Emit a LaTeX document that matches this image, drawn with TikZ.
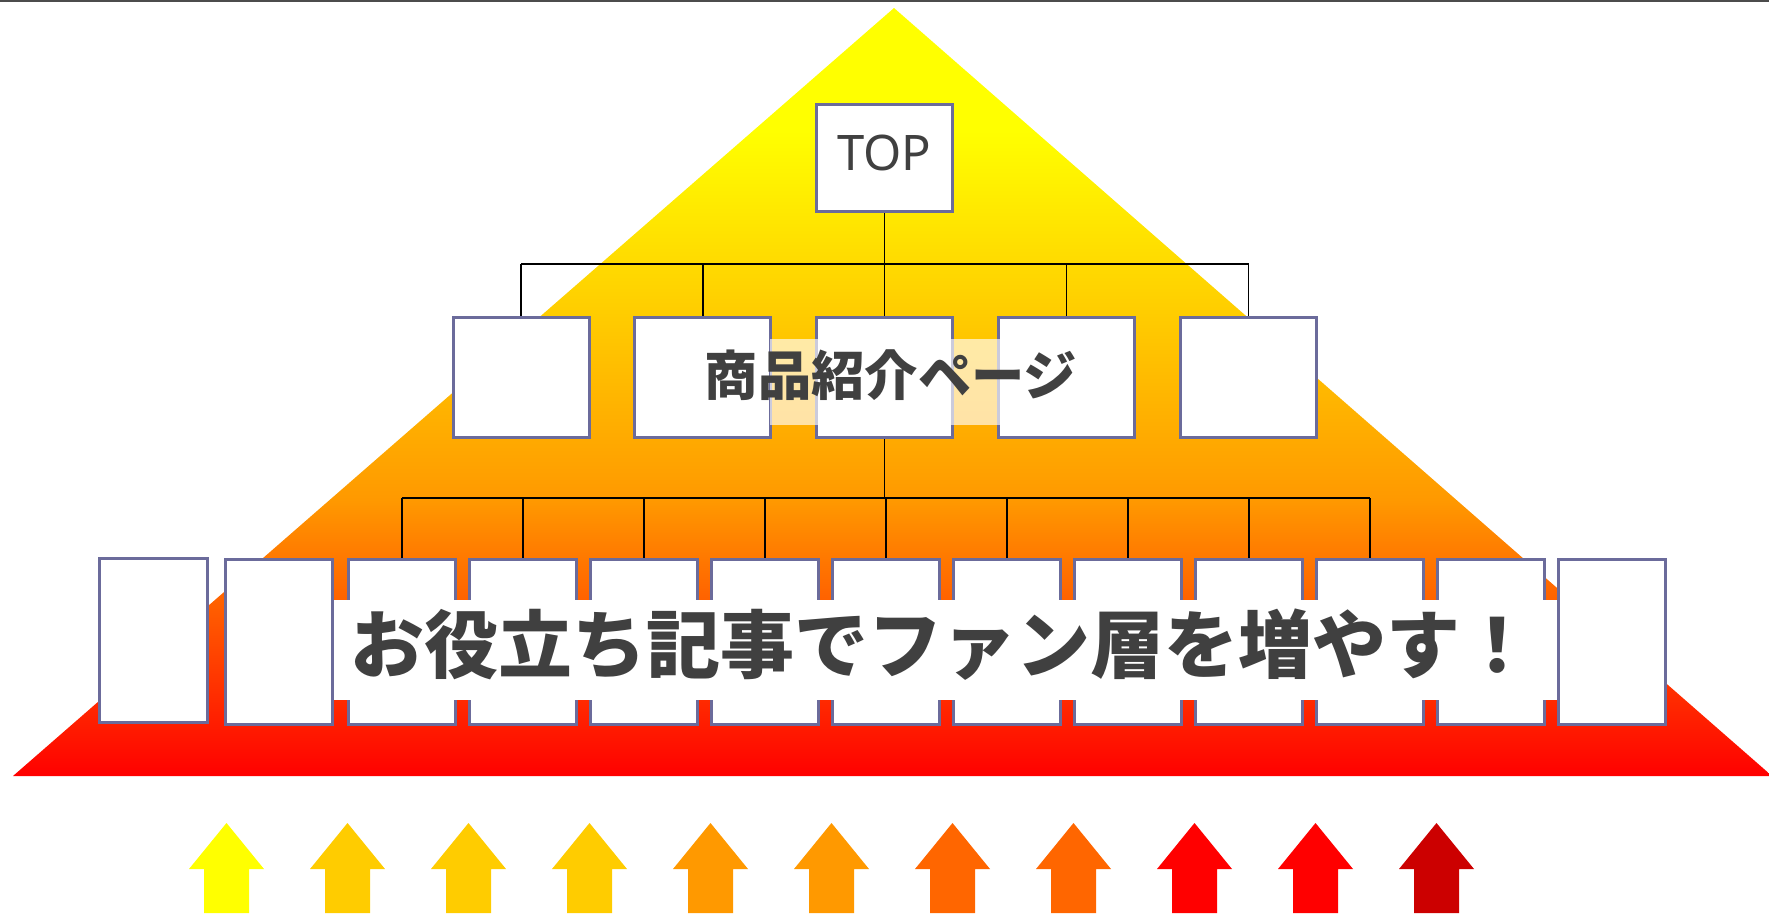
\documentclass[tikz,border=0pt]{standalone}
\usepackage{fontspec}
\setmainfont{Noto Sans}
\newfontfamily\jp{Noto Sans CJK JP}
\definecolor{txt}{RGB}{64,64,64}
\definecolor{bord}{RGB}{107,107,155}
\definecolor{orng}{RGB}{255,153,0}
\definecolor{aY}{RGB}{255,255,0}
\definecolor{aG}{RGB}{255,204,0}
\definecolor{aO}{RGB}{255,153,0}
\definecolor{aR}{RGB}{255,102,0}
\definecolor{aRR}{RGB}{255,0,0}
\definecolor{aD}{RGB}{204,0,0}
\pgfdeclareverticalshading{pyr}{100bp}{color(0bp)=(red); color(25bp)=(red); color(43bp)=(orng); color(67bp)=(yellow); color(100bp)=(yellow)}
\begin{document}
\begin{tikzpicture}[x=0.75pt,y=-0.75pt,
  box/.style={draw=bord, line width=2.25pt, fill=white, inner sep=0pt},
  lowbox/.style={box, minimum width=80.25pt, minimum height=123.75pt},
  midbox/.style={box, minimum width=102pt, minimum height=90pt},
  conn/.style={black, line width=1pt}]
\useasboundingbox (0,0) rectangle (1769,921);
\clip (0,0) rectangle (1769,921);
% pyramid
\shade[shading=pyr] (894,8) -- (13,776) -- (1772,776) -- cycle;
\draw[line width=1.1pt, gray!60!black] (0,1) -- (1769,1);
% boxes
\node[box, minimum width=102pt, minimum height=80.25pt] (top) at (884.5,158) {};
\foreach \i in {1,...,5}{
  \node[midbox] (m\i) at ({521+181.875*(\i-1)},377.5) {};
}
\node[box, minimum width=81pt, minimum height=123pt] (b1) at (153.5,640.5) {};
\node[lowbox] (b2) at (278.5,642) {};
\foreach \i in {3,...,13}{
  \node[lowbox] (b\i) at ({402+121*(\i-3)},642) {};
}
% connectors
\coordinate (h1) at (884.5,264);
\coordinate (h2) at (884.5,498);
\draw[conn] (top.south) -- (top.south |- h1);
\draw[conn] (m1.north |- h1) -- (m5.north |- h1);
\foreach \i in {1,...,5}{
  \draw[conn] (m\i.north |- h1) -- (m\i.north);
}
\draw[conn] (m3.south) -- (m3.south |- h2);
\draw[conn] (b3.north |- h2) -- (b11.north |- h2);
\foreach \i in {3,...,11}{
  \draw[conn] (b\i.north |- h2) -- (b\i.north);
}
% texts
\node[text=txt, font=\fontsize{36.75pt}{40pt}\selectfont, inner sep=0pt] (toptxt) at (884.5,152.5) {TOP};
\fill[white, opacity=0.65] (770,339) rectangle (1000,425);
\node[text=txt, font=\jp\bfseries\fontsize{40pt}{44pt}\selectfont, inner sep=0pt] (midtxt) at (891,375) {商品紹介ページ};
\node[fill=white, inner sep=0pt, minimum width=917.25pt, minimum height=75pt] (band) at (945.5,650) {};
\node[text=txt, font=\jp\bfseries\fontsize{55.5pt}{60pt}\selectfont, inner sep=0pt] (bigtxt) at (942,645) {お役立ち記事でファン層を増やす！};
% arrows
\foreach \cx/\cc in {226.5/aY, 347.5/aG, 468.5/aG, 589.5/aG, 710.5/aO, 831.5/aO, 952.5/aR, 1073.5/aR, 1194.5/aRR, 1315.5/aRR, 1436.5/aD}{
  \fill[\cc] (\cx,823) -- (\cx+37.5,869) -- (\cx+22.5,869) -- (\cx+22.5,913) -- (\cx-22.5,913) -- (\cx-22.5,869) -- (\cx-37.5,869) -- cycle;
}
\end{tikzpicture}
\end{document}
